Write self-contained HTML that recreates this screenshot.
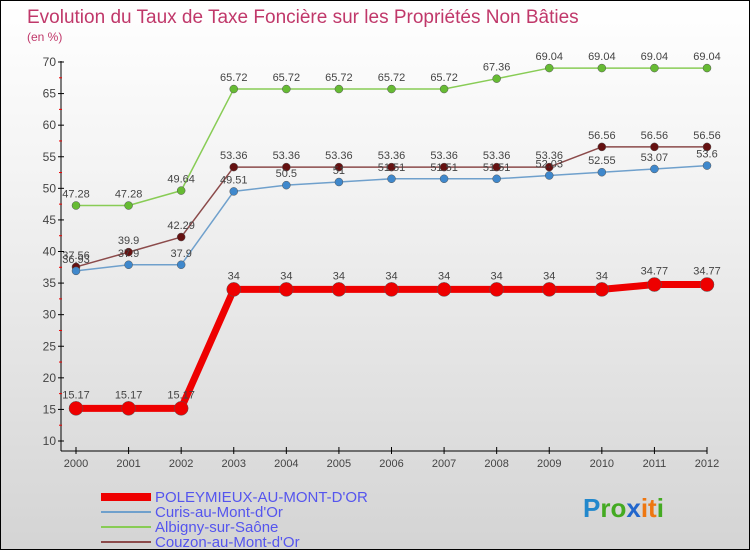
<!DOCTYPE html>
<html><head><meta charset="utf-8"><style>
body{margin:0}
#c{width:748px;height:548px;border:1px solid #000;background:linear-gradient(#fff,#f4f4f4 30%,#d4d4d4);position:relative;overflow:hidden;font-family:"Liberation Sans",sans-serif}
</style></head><body>
<div id="c">
<svg id="s" width="748" height="548" style="position:absolute;left:0;top:0">
<text x="26" y="22" font-size="19" fill="#c0386a">Evolution du Taux de Taxe Foncière sur les Propriétés Non Bâties</text>
<text x="26" y="40" font-size="12" fill="#c0386a">(en %)</text>
<g id="g"></g>
</svg>
</div>
<script>
const years=[2000,2001,2002,2003,2004,2005,2006,2007,2008,2009,2010,2011,2012];
const poley=[15.17,15.17,15.17,34,34,34,34,34,34,34,34,34.77,34.77];
const curis=[36.93,37.9,37.9,49.51,50.5,51,51.51,51.51,51.51,52.03,52.55,53.07,53.6];
const albigny=[47.28,47.28,49.64,65.72,65.72,65.72,65.72,65.72,67.36,69.04,69.04,69.04,69.04];
const couzon=[37.56,39.9,42.29,53.36,53.36,53.36,53.36,53.36,53.36,53.36,56.56,56.56,56.56];
const yTicks=[10,15,20,25,30,35,40,45,50,55,60,65,70];
const names=["POLEYMIEUX-AU-MONT-D'OR","Curis-au-Mont-d'Or","Albigny-sur-Saône","Couzon-au-Mont-d'Or"];
const NS="http://www.w3.org/2000/svg",g=document.getElementById('g');
const X=i=>75+i*(631/12), Y=v=>440-(v-10)*(379/60);
function el(t,a,p){const e=document.createElementNS(NS,t);for(const k in a)e.setAttribute(k,a[k]);(p||g).appendChild(e);return e;}
let ax=el('line',{x1:60,y1:60,x2:60,y2:450,stroke:'#000'});

let bx=el('line',{x1:60,y1:450,x2:706,y2:450,stroke:'#000'});

yTicks.forEach(v=>{el('line',{x1:57,y1:Y(v),x2:63,y2:Y(v),stroke:'#000'});
 if(v<70)el('line',{x1:58,y1:Y(v+2.5),x2:61,y2:Y(v+2.5),stroke:'#e00'});
 const t=el('text',{x:55,y:Y(v)+4,'font-size':12,fill:'#444','text-anchor':'end'});t.textContent=v;
 });
years.forEach((yr,i)=>{el('line',{x1:X(i),y1:446,x2:X(i),y2:453,stroke:'#000'});
 const t=el('text',{x:X(i),y:466,'font-size':11,fill:'#444','text-anchor':'middle'});t.textContent=yr;
 });
const series=[[albigny,'#88cc55','#66bb33',1.5,4,'albigny'],[couzon,'#8b4a4a','#661111',1.5,4,'couzon'],[curis,'#6fa0cc','#3f88cc',1.5,4,'curis'],[poley,'#ee0000','#ee0000',7,7,'poleymieux']];
series.forEach(([d,c,pc,w,r,n])=>{
 const p=el('polyline',{points:d.map((v,i)=>X(i)+','+Y(v)).join(' '),fill:'none',stroke:c,'stroke-width':w,'stroke-linejoin':'round'});
 
 d.forEach((v,i)=>{const q=el('circle',{cx:X(i),cy:Y(v),r:r,fill:pc,stroke:'#555','stroke-width':0.5});
  
  const t=el('text',{x:X(i),y:Y(v)-(n==='poleymieux'?10:8),'font-size':11,fill:'#444','text-anchor':'middle'});
  t.textContent=String(v).replace('.','.');});
});
const lc=['#ee0000','#6fa0cc','#88cc55','#8b4a4a'],lw=[8,2,2,2];
names.forEach((nm,i)=>{const y=495+i*15;
 const l=el('line',{x1:100,y1:y+1,x2:150,y2:y+1,stroke:lc[i],'stroke-width':lw[i]});
 
 const t=el('text',{x:154,y:y+6,'font-size':15,fill:'#5555ee'});t.textContent=nm;
 });
const logo=el('text',{x:582,y:516,'font-size':26,'font-weight':'bold'});

[['P','#2288cc'],['ro','#44aa22'],['x','#2266cc'],['it','#ee7711'],['i','#44aa22']].forEach(([s,c])=>{const ts=el('tspan',{fill:c},logo);ts.textContent=s;});
</script>
</body></html>
